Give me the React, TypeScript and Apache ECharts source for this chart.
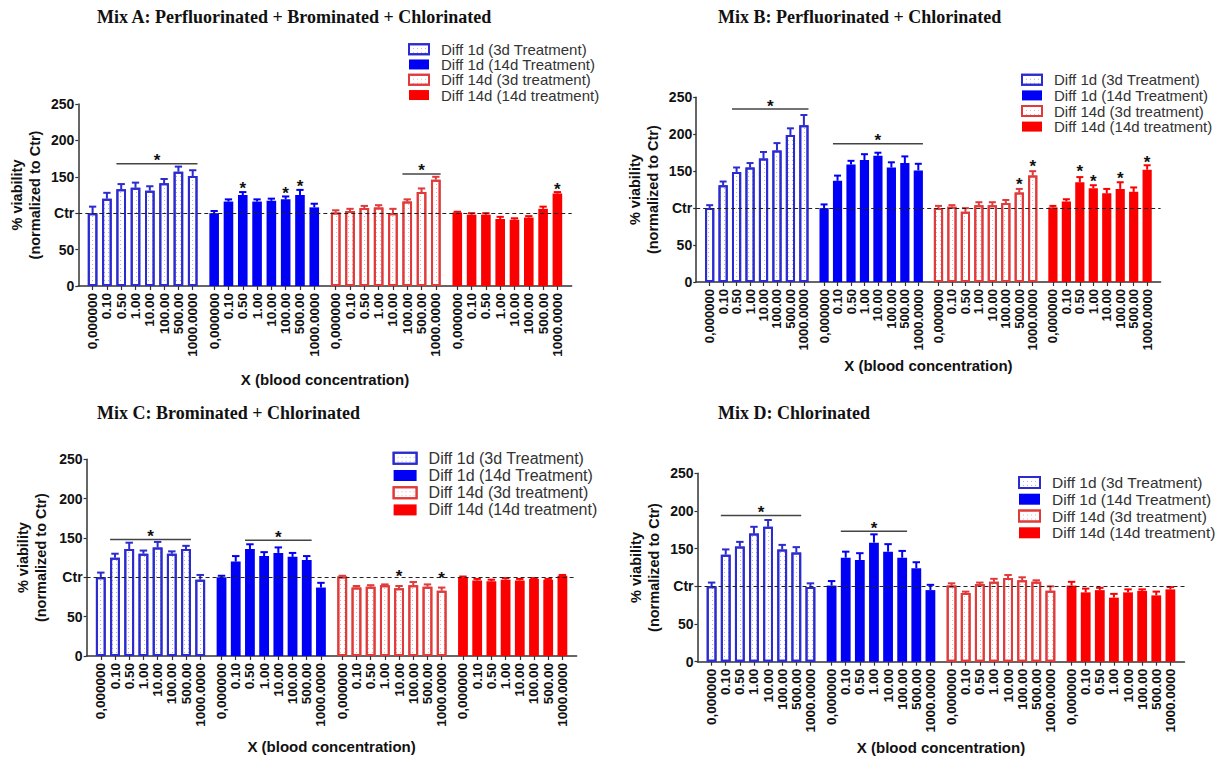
import React, { useEffect, useRef } from "react";
import * as echarts from "echarts";

// ---------- data ----------
const concentrations = ["0,000000", "0.10", "0.50", "1.00", "10.00", "100.00", "500.00", "1000.0000"];
const seriesNames = [
  "Diff 1d (3d Treatment)",
  "Diff 1d (14d Treatment)",
  "Diff 14d (3d treatment)",
  "Diff 14d (14d treatment)",
];
const panelTitles = [
  "Mix A: Perfluorinated + Brominated + Chlorinated",
  "Mix B: Perfluorinated + Chlorinated",
  "Mix C: Brominated + Chlorinated",
  "Mix D: Chlorinated",
];
const yTicks = [0, 50, 100, 150, 200, 250];
const ctrValue = 100;
const xAxisName = "X (blood concentration)";
const yAxisName = "% viability\n(normalized to Ctr)";

// means per group (4 groups x 8 concentrations)
const mixAMean = [
  [100, 120, 133, 135, 131, 141, 157, 151],
  [100, 116, 125, 116, 117, 119, 125, 108],
  [101, 103, 107, 108, 100, 116, 129, 146],
  [101, 98, 98, 92, 91, 94, 106, 127],
];
const mixAErr = [
  [9, 8, 7, 7, 6, 6, 7, 8],
  [3, 3, 4, 3, 3, 4, 7, 5],
  [3, 3, 3, 3, 6, 3, 5, 4],
  [1, 2, 2, 3, 2, 2, 3, 2],
];
// [group, fromIndex, toIndex, yValue, hasLine]
const mixASig = [
  [0, 2, 7, 168, 1],
  [1, 2, 2, 139, 0],
  [1, 5, 5, 132, 0],
  [1, 6, 6, 142, 0],
  [2, 5, 7, 154, 1],
  [3, 7, 7, 138, 0],
];

const mixBMean = [
  [100, 131, 149, 155, 167, 178, 199, 212],
  [100, 137, 159, 165, 171, 155, 161, 151],
  [100, 102, 95, 104, 104, 107, 121, 144],
  [101, 109, 135, 127, 120, 126, 122, 152],
];
const mixBErr = [
  [4, 5, 6, 6, 9, 10, 9, 14],
  [5, 7, 5, 8, 4, 7, 9, 9],
  [3, 2, 5, 4, 4, 4, 5, 6],
  [2, 3, 7, 4, 6, 9, 6, 6],
];
const mixBSig = [
  [0, 2, 7, 234, 1],
  [1, 1, 7, 187, 1],
  [2, 6, 6, 137, 0],
  [2, 7, 7, 161, 0],
  [3, 2, 2, 154, 0],
  [3, 3, 3, 141, 0],
  [3, 5, 5, 145, 0],
  [3, 7, 7, 167, 0],
];

const mixCMean = [
  [100, 125, 136, 130, 138, 130, 136, 97],
  [100, 120, 136, 127, 131, 126, 122, 87],
  [101, 87, 88, 90, 86, 90, 88, 83],
  [100, 96, 95, 97, 96, 98, 97, 102],
];
const mixCErr = [
  [6, 5, 8, 4, 7, 3, 4, 6],
  [2, 7, 6, 5, 7, 5, 5, 6],
  [1, 2, 2, 1, 3, 4, 3, 4],
  [1, 2, 2, 2, 2, 1, 1, 1],
];
const mixCSig = [
  [0, 1, 6, 148, 1],
  [1, 2, 6, 147, 1],
  [2, 4, 4, 106, 0],
  [2, 7, 7, 103, 0],
];

const mixDMean = [
  [100, 142, 153, 170, 179, 149, 145, 99],
  [101, 138, 135, 158, 146, 138, 124, 95],
  [101, 91, 103, 106, 111, 108, 106, 94],
  [101, 92, 95, 85, 92, 94, 88, 96],
];
const mixDErr = [
  [5, 7, 6, 9, 9, 6, 7, 5],
  [6, 8, 9, 11, 10, 9, 8, 7],
  [3, 2, 2, 4, 4, 4, 2, 6],
  [5, 5, 3, 5, 4, 2, 5, 3],
];
const mixDSig = [
  [0, 1, 6, 194, 1],
  [1, 1, 5, 173, 1],
];

const panelMeans = [mixAMean, mixBMean, mixCMean, mixDMean];
const panelErrs = [mixAErr, mixBErr, mixCErr, mixDErr];
const panelSigs = [mixASig, mixBSig, mixCSig, mixDSig];

// ---------- layout / style ----------
const LEAD = 2; // empty half-slots before first bar
const GROUP_STEP = 17; // half-slots between group starts
const CAT_COUNT = 70;
const barCat = (g: number, i: number) => LEAD + GROUP_STEP * g + 2 * i;

const layouts = [
  { left: 78.3, top: 104, width: 493.4, height: 182, barW: 9.6, xFont: 13.5, titleLeft: 97, titleTop: 8, legLeft: 408, legTop: 41.5, legRow: 15.3, legFont: 15, iconW: 20, iconH: 10, yGap: 34, xGap: 86 },
  { left: 696.2, top: 97.3, width: 464.4, height: 184.7, barW: 9.2, xFont: 13, titleLeft: 718, titleTop: 8, legLeft: 1021, legTop: 72, legRow: 15.6, legFont: 15, iconW: 20, iconH: 10, yGap: 34, xGap: 76 },
  { left: 86.6, top: 459.3, width: 490, height: 196.7, barW: 9.8, xFont: 13.5, titleLeft: 97, titleTop: 404, legLeft: 392.6, legTop: 449.7, legRow: 17.2, legFont: 16, iconW: 23, iconH: 11, yGap: 37, xGap: 83 },
  { left: 697.5, top: 473.3, width: 487, height: 188.4, barW: 9.8, xFont: 13.5, titleLeft: 718, titleTop: 404, legLeft: 1018, legTop: 474, legRow: 16.8, legFont: 15.5, iconW: 21, iconH: 11, yGap: 35, xGap: 78 },
];

const SANS = "'Liberation Sans', Arial, sans-serif";
const SERIF = "'Liberation Serif', 'Times New Roman', serif";
const AXIS_COLOR = "#333";
const TEXT_COLOR = "#111";

const groupLineColors = ["#2b2bcf", "#0000f5", "#e03a3a", "#fb0000"];
const decalBlue = {
  symbol: "rect",
  symbolSize: 1,
  dashArrayX: [1, 2.2],
  dashArrayY: [1, 2.2],
  color: "rgba(80,80,200,0.45)",
};
const decalRed = {
  symbol: "rect",
  symbolSize: 1,
  dashArrayX: [1, 2.2],
  dashArrayY: [1, 2.2],
  color: "rgba(220,80,80,0.45)",
};
const groupItemStyles: any[] = [
  { color: "#ffffff", borderColor: groupLineColors[0], borderWidth: 2, decal: decalBlue },
  { color: groupLineColors[1], borderColor: groupLineColors[1], borderWidth: 0 },
  { color: "#ffffff", borderColor: groupLineColors[2], borderWidth: 2, decal: decalRed },
  { color: groupLineColors[3], borderColor: groupLineColors[3], borderWidth: 0 },
];

function buildOption() {
  const cats: string[] = [];
  const labelOf: Record<string, string> = {};
  const barSet = new Set<number>();
  for (let c = 0; c < CAT_COUNT; c++) {
    cats.push("c" + c);
    labelOf["c" + c] = "";
  }
  for (let g = 0; g < 4; g++) {
    for (let i = 0; i < concentrations.length; i++) {
      const c = barCat(g, i);
      labelOf["c" + c] = concentrations[i];
      barSet.add(c);
    }
  }

  const grid: any[] = [];
  const xAxis: any[] = [];
  const yAxis: any[] = [];
  const series: any[] = [];
  const title: any[] = [];
  const legend: any[] = [];

  layouts.forEach((L, p) => {
    grid.push({
      left: L.left,
      top: L.top,
      width: L.width,
      height: L.height,
      containLabel: false,
      outerBoundsMode: "none",
    });
    xAxis.push({
      gridIndex: p,
      type: "category",
      data: cats,
      boundaryGap: false,
      axisLine: { show: true, lineStyle: { color: AXIS_COLOR, width: 1.5 } },
      axisTick: {
        show: true,
        interval: (idx: number) => barSet.has(idx),
        length: 4,
        lineStyle: { color: AXIS_COLOR, width: 1.2 },
      },
      axisLabel: {
        interval: (idx: number) => barSet.has(idx),
        rotate: 90,
        formatter: (v: string) => labelOf[v] ?? "",
        fontFamily: SANS,
        fontWeight: "bold",
        fontSize: L.xFont,
        color: TEXT_COLOR,
        margin: 7,
        hideOverlap: false,
      },
      splitLine: { show: false },
      name: xAxisName,
      nameLocation: "middle",
      nameGap: L.xGap,
      nameTextStyle: { fontFamily: SANS, fontWeight: "bold", fontSize: 15, color: TEXT_COLOR },
    });
    yAxis.push({
      gridIndex: p,
      type: "value",
      min: yTicks[0],
      max: yTicks[yTicks.length - 1],
      interval: yTicks[1] - yTicks[0],
      axisLine: { show: true, lineStyle: { color: AXIS_COLOR, width: 1.5 } },
      axisTick: { show: true, length: 3, lineStyle: { color: AXIS_COLOR, width: 1.2 } },
      axisLabel: {
        formatter: (v: number) => (v === ctrValue ? "Ctr" : String(v)),
        fontFamily: SANS,
        fontWeight: "bold",
        fontSize: 14,
        color: TEXT_COLOR,
        margin: 4,
      },
      splitLine: { show: false },
      name: yAxisName,
      nameLocation: "middle",
      nameGap: L.yGap,
      nameTextStyle: { fontFamily: SANS, fontWeight: "bold", fontSize: 14.5, lineHeight: 18, color: TEXT_COLOR },
    });

    title.push({
      text: panelTitles[p],
      left: L.titleLeft,
      top: L.titleTop,
      padding: 0,
      textStyle: { fontFamily: SERIF, fontWeight: "bold", fontSize: 18, color: TEXT_COLOR },
    });

    legend.push({
      orient: "vertical",
      left: L.legLeft,
      top: L.legTop,
      padding: 0,
      itemGap: 0,
      itemWidth: L.iconW,
      itemHeight: L.iconH,
      selectedMode: false,
      icon: "rect",
      data: seriesNames.map((n, g) => ({ name: n, itemStyle: groupItemStyles[g] })),
      textStyle: {
        fontFamily: SANS,
        fontSize: L.legFont,
        lineHeight: L.legRow,
        color: "#333",
        padding: [0, 0, 0, 7],
      },
    });

    const means = panelMeans[p];
    const errs = panelErrs[p];

    for (let g = 0; g < 4; g++) {
      const data: (number | null)[] = new Array(CAT_COUNT).fill(null);
      means[g].forEach((v, i) => {
        data[barCat(g, i)] = v;
      });
      const s: any = {
        type: "bar",
        name: seriesNames[g],
        xAxisIndex: p,
        yAxisIndex: p,
        stack: "panel" + p,
        barWidth: L.barW,
        data,
        itemStyle: groupItemStyles[g],
        z: 2,
      };
      if (g === 0) {
        s.markLine = {
          silent: true,
          symbol: ["none", "none"],
          label: { show: false },
          lineStyle: { type: [4, 3], color: "#222", width: 1 },
          data: [{ yAxis: ctrValue }],
          z: 5,
        };
      }
      series.push(s);
    }

    // error bars
    const errData: number[][] = [];
    for (let g = 0; g < 4; g++) {
      means[g].forEach((v, i) => {
        errData.push([barCat(g, i), v, errs[g][i], g]);
      });
    }
    const capHalf = L.barW * 0.38;
    series.push({
      type: "custom",
      name: "err" + p,
      xAxisIndex: p,
      yAxisIndex: p,
      data: errData,
      encode: { x: 0, y: 1 },
      z: 3,
      silent: true,
      renderItem: (_params: any, api: any) => {
        const x = api.value(0);
        const m = api.value(1);
        const e = api.value(2);
        const g = api.value(3);
        const p0 = api.coord([x, m]);
        const p1 = api.coord([x, m + e]);
        const col = groupLineColors[g];
        return {
          type: "group",
          children: [
            { type: "line", shape: { x1: p0[0], y1: p0[1], x2: p1[0], y2: p1[1] }, style: { stroke: col, lineWidth: 2 } },
            { type: "line", shape: { x1: p1[0] - capHalf, y1: p1[1], x2: p1[0] + capHalf, y2: p1[1] }, style: { stroke: col, lineWidth: 2 } },
          ],
        };
      },
    });

    // significance marks
    const sigData = panelSigs[p].map((s) => [barCat(s[0], s[1]), barCat(s[0], s[2]), s[3], s[4]]);
    const halfBar = L.barW / 2;
    series.push({
      type: "custom",
      name: "sig" + p,
      xAxisIndex: p,
      yAxisIndex: p,
      data: sigData,
      encode: { x: [0, 1], y: 2 },
      z: 6,
      silent: true,
      renderItem: (_params: any, api: any) => {
        const a = api.coord([api.value(0), api.value(2)]);
        const b = api.coord([api.value(1), api.value(2)]);
        const hasLine = api.value(3) === 1;
        const children: any[] = [];
        if (hasLine) {
          children.push({
            type: "line",
            shape: { x1: a[0] - halfBar, y1: a[1], x2: b[0] + halfBar, y2: b[1] },
            style: { stroke: "#444", lineWidth: 1.5 },
          });
          children.push({
            type: "text",
            x: (a[0] + b[0]) / 2,
            y: a[1] - 3,
            style: { text: "*", fontFamily: SANS, fontWeight: "bold", fontSize: 17, fill: TEXT_COLOR, align: "center", verticalAlign: "middle" },
          });
        } else {
          children.push({
            type: "text",
            x: a[0],
            y: a[1] + 3.5,
            style: { text: "*", fontFamily: SANS, fontWeight: "bold", fontSize: 17, fill: TEXT_COLOR, align: "center", verticalAlign: "middle" },
          });
        }
        return { type: "group", children };
      },
    });
  });

  return {
    animation: false,
    backgroundColor: "#ffffff",
    title,
    legend,
    grid,
    xAxis,
    yAxis,
    series,
  };
}

export default function App() {
  const ref = useRef<HTMLDivElement | null>(null);
  useEffect(() => {
    if (!ref.current) return;
    const chart = echarts.init(ref.current, null, { renderer: "svg" });
    chart.setOption(buildOption() as any);
    return () => {
      chart.dispose();
    };
  }, []);
  return (
    <div
      ref={ref}
      style={{ position: "absolute", left: 0, top: 0, width: 1224, height: 758, background: "#fff" }}
    />
  );
}
